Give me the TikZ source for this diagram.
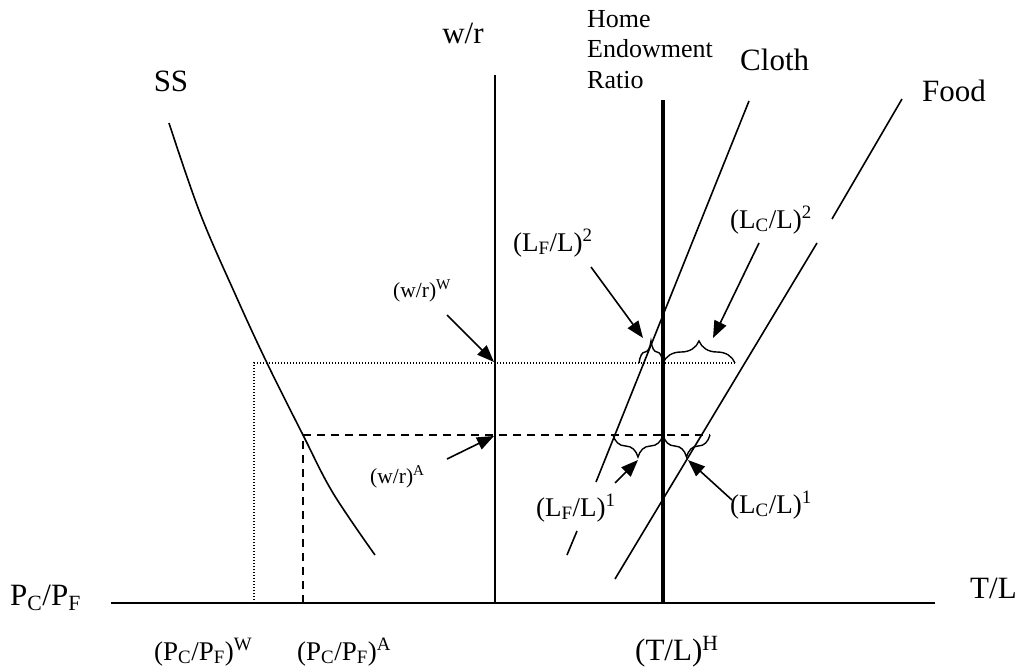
\documentclass[tikz,border=0pt]{standalone}
\usepackage{fontspec}
\setmainfont{Liberation Serif}
\usetikzlibrary{arrows.meta,decorations.pathreplacing}
\tikzset{
  big/.style={font=\fontsize{31}{36}\selectfont, inner sep=0pt},
  mid/.style={font=\fontsize{27}{31}\selectfont, inner sep=0pt},
  home/.style={font=\fontsize{26}{30.5}\selectfont, inner sep=0pt},
  small/.style={font=\fontsize{21.5}{25}\selectfont, inner sep=0pt},
  thinline/.style={line width=1.6pt},
  axisline/.style={line width=2pt},
  thickline/.style={line width=4.5pt},
  dotline/.style={line width=1.3pt, dash pattern=on 1.3pt off 1.7pt},
  dashline/.style={line width=1.6pt, dash pattern=on 8pt off 6pt},
  ptr/.style={line width=1.6pt, -{Triangle[length=17pt,width=13pt]}},
  brc/.style={decorate, decoration={brace, amplitude=22pt}, line width=1.4pt}
}
\begin{document}
\begin{tikzpicture}[x=1pt,y=-1pt]
\useasboundingbox (0,0) rectangle (1021,672);
% key coordinates
\coordinate (axL) at (111,603);
\coordinate (axR) at (935,603);
\coordinate (wrT) at (495,75);
\coordinate (wrB) at (495,603);
\coordinate (heT) at (663,100);
\coordinate (heB) at (663,603);
% Food line (with gap)
\coordinate (fd1) at (902,99);
\coordinate (fd2) at (832,219);
\coordinate (fd3) at (817,243);
\coordinate (fd4) at (615,579);
% Cloth line (with gap)
\coordinate (cl1) at (749,101);
\coordinate (cl2) at (596,482);
\coordinate (cl3) at (577,531);
\coordinate (cl4) at (567,555);
% dotted / dashed guides
\coordinate (dtA) at (254,603);
\coordinate (dtB) at (254,363);
\coordinate (dtC) at (735,363);
\coordinate (dsA) at (303,603);
\coordinate (dsB) at (303,435);
\coordinate (dsC) at (710,435);
% brace points
\coordinate (ub1) at (639,363);
\coordinate (ub2) at (663,363);
\coordinate (ub3) at (735,363);
\coordinate (lb1) at (613,435);
\coordinate (lb2) at (663,435);
\coordinate (lb3) at (710,435);

% axes and lines
\draw[axisline] (axL) -- (axR);
\draw[thinline] (wrT) -- (wrB);
\draw[thickline] (heT) -- (heB);
\draw[thinline] (fd1) -- (fd2);
\draw[thinline] (fd3) -- (fd4);
\draw[thinline] (cl1) -- (cl2);
\draw[thinline] (cl3) -- (cl4);
% SS curve
\draw[thinline] plot[smooth, tension=0.6] coordinates {(169,123) (200,213) (236,296) (267,363) (303,435) (333,493) (375,555)};
% guides
\draw[dotline] (dtA) -- (dtB) -- (dtC);
\draw[dashline] (dsA) -- (dsB) -- (dsC);
% braces
\draw[brc] (ub1) -- (ub2);
\draw[brc] (ub2) -- (ub3);
\draw[brc] (lb2) -- (lb1);
\draw[brc] (lb3) -- (lb2);

% labels
\node[big, anchor=base] (ss) at (171,91) {SS};
\node[big, anchor=base] (wr) at (463,43) {w/r};
\node[home, anchor=base west] (home1) at (587,27) {Home};
\node[home, anchor=base west] (home2) at (587,57) {Endowment};
\node[home, anchor=base west] (home3) at (587,88) {Ratio};
\node[big, anchor=base west] (cloth) at (740,70) {Cloth};
\node[big, anchor=base west] (food) at (922,101) {Food};
\node[big, anchor=base west] (tl) at (970,598) {T/L};
\node[big, anchor=base west] (pcpf) at (10,605) {P\textsubscript{C}/P\textsubscript{F}};
\node[mid, anchor=base west] (pw) at (154,660) {(P\textsubscript{C}/P\textsubscript{F})\textsuperscript{W}};
\node[mid, anchor=base west] (pa) at (297,660) {(P\textsubscript{C}/P\textsubscript{F})\textsuperscript{A}};
\node[big, anchor=base west] (tlh) at (635,660) {(T/L)\textsuperscript{H}};
\node[mid, anchor=base west] (lf2) at (513,251) {(L\textsubscript{F}/L)\textsuperscript{2}};
\node[mid, anchor=base west] (lc2) at (730,228) {(L\textsubscript{C}/L)\textsuperscript{2}};
\node[mid, anchor=base west] (lf1) at (536,516) {(L\textsubscript{F}/L)\textsuperscript{1}};
\node[mid, anchor=base west] (lc1) at (730,513) {(L\textsubscript{C}/L)\textsuperscript{1}};
\node[small, anchor=base west] (ww) at (393,297) {(w/r)\textsuperscript{W}};
\node[small, anchor=base west] (wa) at (370,483) {(w/r)\textsuperscript{A}};

% arrows
\coordinate (wwS) at (447,315);
\coordinate (wwE) at (494,362);
\coordinate (waS) at (447,459);
\coordinate (waE) at (494,436);
\coordinate (lf2S) at (591,267);
\coordinate (lf2E) at (643,338);
\coordinate (lc2S) at (759,243);
\coordinate (lc2E) at (713,338);
\coordinate (lf1S) at (615,483);
\coordinate (lf1E) at (638,460);
\coordinate (lc1S) at (732,500);
\coordinate (lc1E) at (688,460);
\draw[ptr] (wwS) -- (wwE);
\draw[ptr] (waS) -- (waE);
\draw[ptr] (lf2S) -- (lf2E);
\draw[ptr] (lc2S) -- (lc2E);
\draw[ptr] (lf1S) -- (lf1E);
\draw[ptr] (lc1S) -- (lc1E);
\end{tikzpicture}
\end{document}
